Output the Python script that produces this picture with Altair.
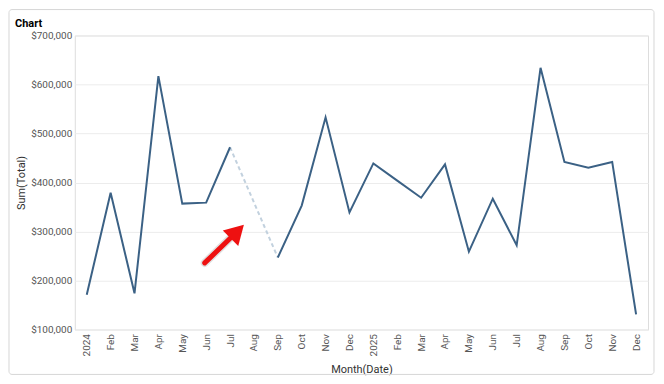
import altair as alt
import pandas as pd

# ---- data ----
month_keys = [f"2024-{m:02d}" for m in range(1, 13)] + [f"2025-{m:02d}" for m in range(1, 13)]
month_labels = ["2024", "Feb", "Mar", "Apr", "May", "Jun", "Jul", "Aug", "Sep", "Oct", "Nov", "Dec",
                "2025", "Feb", "Mar", "Apr", "May", "Jun", "Jul", "Aug", "Sep", "Oct", "Nov", "Dec"]
totals = [171000, 379000, 174000, 617000, 357000, 359000, 472000, None, 247000, 353000, 533000, 339000,
          439000, 404000, 369000, 437000, 259000, 367000, 272000, 634000, 442000, 430000, 442000, 131000]

# gap bridge (missing Aug 2024) drawn dashed between Jul and Sep
gap_keys = ["2024-07", "2024-09"]

# arrow annotation (month index, value)
arrow_x = [4.94, 6.15]
arrow_y = [236000, 293000]
head_x = [6.3]
head_y = [300000]

# ---- build tables ----
rows = []
seg = 0
for k, lab, v in zip(month_keys, month_labels, totals):
    if v is None:
        seg += 1
        continue
    rows.append({"key": k, "label": lab, "total": v, "seg": seg})
df = pd.DataFrame(rows)
gap_df = df[df["key"].isin(gap_keys)]
arrow_df = pd.DataFrame({"i": arrow_x, "v": arrow_y})
head_df = pd.DataFrame({"i": head_x, "v": head_y})

W, H = 575, 295
font = "Roboto"

keys_js = "[" + ",".join(f"'{k}'" for k in month_keys) + "]"
labels_js = "[" + ",".join(f"'{l}'" for l in month_labels) + "]"
label_expr = f"{labels_js}[indexof({keys_js}, datum.value)]"

y_enc = alt.Y("total:Q", title="Sum(Total)",
              scale=alt.Scale(domain=[100000, 700000], nice=False, zero=False),
              axis=alt.Axis(format="$,.0f", values=[100000, 200000, 300000, 400000, 500000, 600000, 700000],
                            domain=False, ticks=False, labelColor="#555", labelFontSize=10, labelPadding=3,
                            titleFontSize=11, titleFontWeight="normal", titleColor="#333", titlePadding=4,
                            gridColor="#ececec", labelFont=font, titleFont=font))

x_enc = alt.X("key:O", title="Month(Date)",
              scale=alt.Scale(domain=month_keys, type="point", padding=0.5),
              axis=alt.Axis(labelExpr=label_expr, labelAngle=-90, domain=False, ticks=False, grid=False,
                            labelColor="#555", labelFontSize=10, labelPadding=4, labelFont=font,
                            titleFontSize=11, titleFontWeight="normal", titleColor="#333", titleFont=font,
                            titlePadding=8))

solid = alt.Chart(df).mark_line(color="#3b6185", strokeWidth=2).encode(
    x=x_enc, y=y_enc, detail="seg:N")

dashed = alt.Chart(gap_df).mark_line(color="#c2d1de", strokeWidth=2, strokeDash=[4, 3]).encode(
    x=alt.X("key:O", scale=alt.Scale(domain=month_keys, type="point", padding=0.5)),
    y=alt.Y("total:Q"))

base_lines = alt.layer(dashed, solid)

qx = alt.Scale(domain=[-0.5, 23.5], nice=False, zero=False)
shadow = alt.Chart(arrow_df).mark_line(color="#000000", opacity=0.12, strokeWidth=8, strokeCap="round").encode(
    x=alt.X("i:Q", scale=qx, axis=None), y=alt.Y("v:Q"))
shaft = alt.Chart(arrow_df).mark_line(color="#ee1111", strokeWidth=5, strokeCap="round").encode(
    x=alt.X("i:Q", scale=qx, axis=None), y=alt.Y("v:Q"))
head = alt.Chart(head_df).mark_point(shape="triangle-up", filled=True, color="#ee1111", opacity=1,
                                     size=480, angle=45).encode(
    x=alt.X("i:Q", scale=qx, axis=None), y=alt.Y("v:Q"))

frame = alt.Chart(pd.DataFrame({"a": [0]})).mark_rect(
    fill=None, stroke="#d6d6d6", strokeWidth=1, cornerRadius=3, clip=False).encode(
    x=alt.value(-66), x2=alt.value(W + 6), y=alt.value(-26), y2=alt.value(H + 45))

chart = alt.layer(frame, base_lines, shadow, shaft, head).resolve_scale(x="independent").properties(
    width=W, height=H,
    title=alt.TitleParams("Chart", anchor="start", frame="group", dx=-60, offset=-20,
                          fontSize=11, fontWeight="bold", font=font, color="#000"),
    autosize=alt.AutoSizeParams(type="none"),
    padding={"left": 67, "top": 27, "right": 8, "bottom": 46},
).configure_view(stroke="#e6e6e6").configure(background="white")

chart.save("out.html", embed_options={"renderer": "svg", "actions": False})
